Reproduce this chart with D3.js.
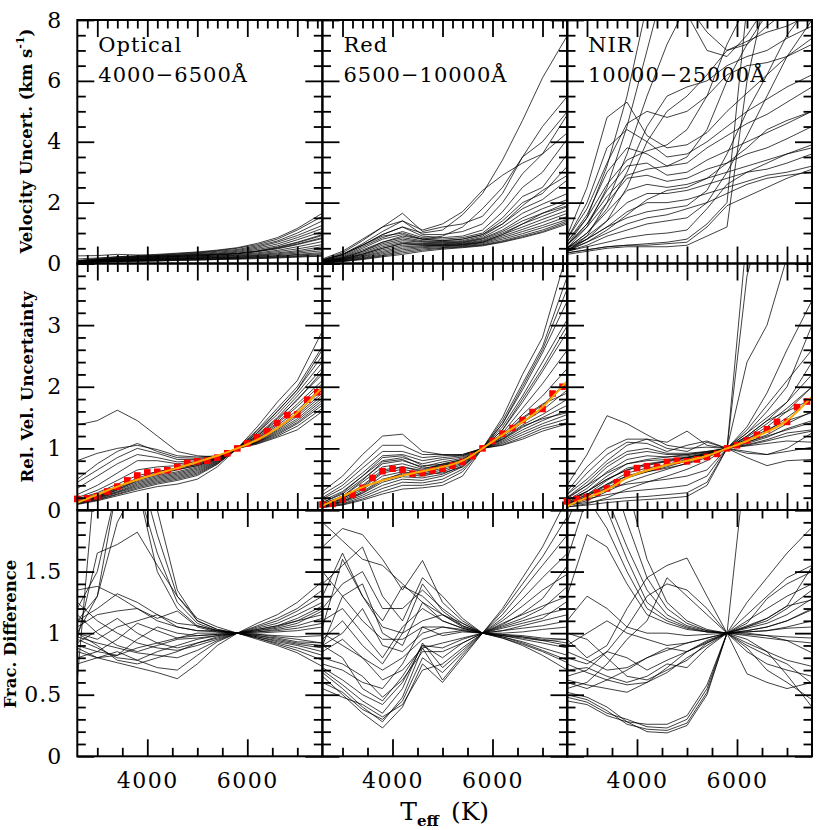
<!DOCTYPE html>
<html>
<head>
<meta charset="utf-8">
<script src="https://cdn.jsdelivr.net/npm/d3@7"></script>
<style>
  body { margin: 0; background: #fff; }
  svg text { font-family: "DejaVu Serif", serif; }
</style>
</head>
<body>
<div id="chart"></div>
<script>
(function() {
const width = 830,
      height = 830

// Teff grid of the individual curves and of the averaged (red) points
const teff = [2600, 3000, 3400, 3800, 4200, 4600, 5000, 5400, 5800, 6200, 6600, 7000, 7500]
const teffMean = [2600, 2800, 3000, 3200, 3400, 3600, 3800, 4000, 4200, 4400, 4600, 4800, 5000,
                  5200, 5400, 5600, 5800, 6000, 6200, 6400, 6600, 6800, 7000, 7200, 7400]

const bandNames = ['Optical', 'Red', 'NIR']
const bandRanges = ['4000\u22126500\u00c5', '6500\u221210000\u00c5', '10000\u221225000\u00c5']

// velocity uncertainty (km/s)
const optVel = [
  [0.10,0.16,0.22,0.26,0.30,0.34,0.38,0.44,0.52,0.66,0.85,1.15,1.65],
  [0.09,0.14,0.20,0.24,0.28,0.32,0.36,0.42,0.50,0.62,0.80,1.10,1.55],
  [0.08,0.13,0.18,0.22,0.26,0.30,0.34,0.40,0.46,0.58,0.74,1.00,1.40],
  [0.08,0.12,0.17,0.21,0.24,0.28,0.32,0.37,0.43,0.54,0.70,0.92,1.25],
  [0.07,0.12,0.16,0.20,0.23,0.26,0.30,0.34,0.40,0.50,0.64,0.85,1.15],
  [0.07,0.11,0.15,0.18,0.21,0.24,0.28,0.32,0.37,0.46,0.58,0.78,1.05],
  [0.06,0.10,0.14,0.17,0.20,0.23,0.26,0.30,0.34,0.42,0.54,0.70,0.95],
  [0.06,0.09,0.13,0.16,0.19,0.21,0.24,0.28,0.32,0.39,0.48,0.62,0.82],
  [0.06,0.09,0.12,0.15,0.17,0.20,0.22,0.25,0.29,0.35,0.43,0.55,0.72],
  [0.05,0.08,0.11,0.14,0.16,0.18,0.21,0.24,0.27,0.32,0.39,0.48,0.62],
  [0.05,0.08,0.10,0.13,0.15,0.17,0.19,0.22,0.25,0.29,0.35,0.42,0.55],
  [0.05,0.07,0.10,0.12,0.14,0.16,0.18,0.20,0.23,0.27,0.32,0.38,0.48],
  [0.04,0.07,0.09,0.11,0.13,0.15,0.17,0.19,0.21,0.25,0.29,0.34,0.42],
  [0.04,0.06,0.08,0.10,0.12,0.14,0.16,0.18,0.20,0.23,0.26,0.30,0.36],
  [0.04,0.06,0.08,0.10,0.11,0.13,0.15,0.16,0.18,0.21,0.24,0.28,0.32],
  [0.03,0.05,0.07,0.09,0.10,0.12,0.13,0.15,0.17,0.19,0.22,0.25,0.29],
  [0.03,0.05,0.07,0.08,0.09,0.11,0.12,0.14,0.16,0.18,0.20,0.23,0.26],
  [0.03,0.04,0.06,0.07,0.08,0.10,0.11,0.13,0.14,0.16,0.18,0.21,0.24],
  [0.25,0.26,0.30,0.28,0.27,0.27,0.28,0.30,0.33,0.40,0.50,0.64,0.85],
  [0.15,0.18,0.22,0.22,0.22,0.23,0.25,0.28,0.32,0.40,0.52,0.68,0.92]
]
const redVel = [
  [0.10,0.30,0.60,0.95,1.20,1.00,1.10,1.60,2.30,3.40,4.70,6.10,7.50],
  [0.12,0.35,0.75,1.20,1.65,1.05,1.20,1.30,1.55,2.30,3.50,4.50,5.50],
  [0.10,0.30,0.65,1.05,1.40,0.95,0.95,1.05,1.30,2.00,2.95,3.60,4.90],
  [0.10,0.28,0.60,0.95,1.20,0.90,0.85,0.90,1.10,1.70,2.50,3.00,4.10],
  [0.08,0.25,0.55,0.85,1.05,0.85,0.80,0.85,1.00,1.50,2.20,2.50,3.60],
  [0.08,0.22,0.50,0.80,0.95,0.80,0.75,0.80,0.95,1.40,2.00,2.30,3.20],
  [0.07,0.20,0.45,0.70,0.85,0.75,0.72,0.75,0.90,1.30,1.80,2.10,2.75],
  [0.07,0.18,0.40,0.65,0.80,0.72,0.70,0.72,0.85,1.20,1.65,1.95,2.30],
  [0.06,0.16,0.36,0.60,0.75,0.70,0.68,0.70,0.82,1.10,1.50,1.80,2.10],
  [0.06,0.15,0.32,0.55,0.70,0.66,0.65,0.68,0.80,1.05,1.40,1.65,1.90],
  [0.05,0.14,0.30,0.50,0.66,0.64,0.63,0.66,0.76,1.00,1.30,1.55,1.87],
  [0.05,0.12,0.27,0.45,0.60,0.62,0.62,0.64,0.73,0.95,1.20,1.45,1.75],
  [0.05,0.11,0.24,0.40,0.55,0.58,0.60,0.62,0.70,0.90,1.12,1.35,1.65],
  [0.04,0.10,0.22,0.36,0.50,0.55,0.58,0.60,0.68,0.85,1.05,1.25,1.55],
  [0.04,0.09,0.19,0.32,0.45,0.52,0.55,0.58,0.65,0.80,0.98,1.18,1.45],
  [0.04,0.08,0.17,0.28,0.40,0.48,0.52,0.56,0.62,0.75,0.92,1.10,1.40],
  [0.03,0.07,0.15,0.25,0.35,0.44,0.50,0.54,0.60,0.72,0.88,1.05,1.35],
  [0.03,0.06,0.13,0.22,0.30,0.40,0.47,0.52,0.58,0.70,0.85,1.02,1.30],
  [0.15,0.40,0.80,1.20,1.40,1.10,1.30,1.70,2.40,2.90,3.30,3.60,4.30],
  [0.12,0.30,0.60,0.90,1.00,0.80,0.90,1.20,1.80,2.50,3.50,4.00,5.00],
  [0.06,0.18,0.40,0.70,0.90,0.80,0.75,0.80,0.95,1.30,1.90,2.40,2.90],
  [0.05,0.14,0.30,0.50,0.65,0.60,0.58,0.62,0.70,0.95,1.30,1.65,2.00]
]
const nirVel = [
  [0.50,1.20,2.50,4.50,7.00,9.50,10.0,10.0,10.0,10.0,10.0,10.0,10.0],
  [0.60,1.50,3.20,5.50,8.50,9.00,8.20,7.00,6.80,7.50,8.50,9.50,10.0],
  [0.40,0.90,2.00,3.60,5.50,7.20,8.50,7.60,7.00,7.20,7.80,8.30,9.00],
  [0.90,2.50,4.80,5.30,4.20,3.80,3.90,4.30,5.00,5.60,6.20,6.80,7.40],
  [0.80,2.00,3.80,4.40,4.00,3.50,3.60,4.00,4.50,5.00,5.40,5.80,6.20],
  [0.70,1.60,3.00,3.80,3.60,3.20,3.30,3.80,4.20,4.60,4.90,5.30,5.80],
  [0.60,1.30,2.40,3.20,3.30,2.90,3.00,3.40,3.70,4.00,4.30,4.60,5.00],
  [0.60,1.20,2.00,2.80,2.90,2.70,2.80,3.10,3.30,3.60,3.80,4.10,4.50],
  [0.50,1.00,1.70,2.40,2.60,2.50,2.60,2.80,3.00,3.20,3.40,3.60,3.90],
  [0.50,0.90,1.40,2.00,2.30,2.30,2.40,2.60,2.80,3.00,3.10,3.30,3.60],
  [0.40,0.80,1.20,1.70,2.00,2.00,2.10,2.30,2.50,2.70,2.90,3.00,3.20],
  [0.40,0.70,1.00,1.30,1.50,1.60,1.80,2.00,2.30,2.60,2.80,2.90,3.00],
  [0.40,0.55,0.70,0.85,0.95,1.00,1.10,1.80,2.60,3.00,3.30,3.60,3.80],
  [0.35,0.45,0.55,0.60,0.60,0.65,0.70,1.20,1.90,2.20,2.50,2.80,3.10],
  [0.30,0.40,0.50,0.55,0.55,0.55,0.60,0.90,1.20,6.00,9.00,10.0,10.0],
  [0.35,0.45,0.55,0.60,0.65,0.70,0.80,1.30,2.00,8.50,10.0,10.0,10.0],
  [0.45,0.80,1.40,2.50,4.00,5.00,5.50,6.20,7.00,7.30,7.60,7.80,8.20],
  [0.50,1.00,1.80,3.00,4.50,5.50,5.80,6.00,6.50,6.80,7.00,7.40,7.80],
  [0.70,1.50,2.60,3.40,3.70,3.90,4.40,5.50,7.20,8.50,9.50,10.0,10.0],
  [0.60,1.30,2.20,2.90,3.10,3.20,3.50,4.40,6.00,7.20,8.20,9.00,10.0],
  [0.45,0.70,1.10,1.60,2.10,2.40,2.50,2.80,3.30,3.80,4.40,4.70,5.00],
  [0.80,1.80,3.30,4.60,5.00,4.80,5.00,5.50,6.20,6.50,6.60,6.80,7.20],
  [0.50,0.80,1.20,1.50,1.70,1.80,1.90,2.40,3.60,5.00,6.20,7.50,8.60],
  [0.40,0.60,0.90,1.10,1.30,1.40,1.50,2.00,3.00,4.20,5.50,6.80,8.00]
]

// velocity uncertainty relative to 5800 K
const optRel = [
  [1.38,1.45,1.62,1.45,1.20,0.95,0.88,0.86,1.0,1.35,1.75,2.10,2.90],
  [0.80,0.92,1.00,1.05,0.98,0.88,0.86,0.88,1.0,1.30,1.65,2.00,2.65],
  [0.50,0.75,0.95,1.08,0.95,0.85,0.84,0.87,1.0,1.28,1.60,1.95,2.50],
  [0.45,0.65,0.85,1.00,0.92,0.82,0.82,0.86,1.0,1.25,1.55,1.90,2.40],
  [0.35,0.55,0.75,0.90,0.85,0.78,0.80,0.85,1.0,1.22,1.50,1.85,2.30],
  [0.25,0.40,0.60,0.80,0.80,0.75,0.78,0.84,1.0,1.20,1.45,1.80,2.20],
  [0.20,0.32,0.48,0.65,0.70,0.72,0.76,0.84,1.0,1.18,1.42,1.72,2.10],
  [0.18,0.28,0.42,0.56,0.62,0.68,0.74,0.83,1.0,1.16,1.40,1.68,2.05],
  [0.16,0.26,0.38,0.50,0.58,0.65,0.72,0.82,1.0,1.15,1.37,1.62,2.00],
  [0.15,0.24,0.36,0.48,0.56,0.62,0.70,0.81,1.0,1.14,1.34,1.58,1.95],
  [0.14,0.22,0.34,0.46,0.54,0.60,0.68,0.80,1.0,1.13,1.32,1.55,1.90],
  [0.13,0.21,0.32,0.44,0.52,0.58,0.66,0.79,1.0,1.12,1.30,1.52,1.86],
  [0.12,0.20,0.30,0.42,0.50,0.56,0.64,0.78,1.0,1.11,1.28,1.48,1.82],
  [0.12,0.19,0.29,0.40,0.48,0.54,0.62,0.77,1.0,1.10,1.26,1.45,1.78],
  [0.11,0.18,0.28,0.38,0.46,0.52,0.60,0.76,1.0,1.10,1.24,1.42,1.74],
  [0.10,0.17,0.26,0.36,0.44,0.50,0.58,0.75,1.0,1.09,1.22,1.40,1.70],
  [0.10,0.16,0.25,0.34,0.42,0.48,0.56,0.74,1.0,1.08,1.20,1.36,1.65],
  [0.09,0.15,0.23,0.31,0.38,0.42,0.50,0.70,1.0,1.07,1.18,1.30,1.60],
  [0.13,0.22,0.36,0.52,0.62,0.68,0.74,0.84,1.0,1.25,1.60,1.95,2.60],
  [0.12,0.20,0.33,0.48,0.60,0.66,0.72,0.83,1.0,1.20,1.48,1.78,2.25]
]
const redRel = [
  [0.30,0.55,0.90,1.20,1.23,0.95,0.90,0.88,1.0,1.50,2.20,2.80,4.20],
  [0.25,0.45,0.75,1.05,1.05,0.90,0.90,0.90,1.0,1.45,2.05,2.65,3.80],
  [0.20,0.40,0.68,0.95,0.95,0.85,0.88,0.90,1.0,1.40,1.95,2.55,3.40],
  [0.18,0.35,0.60,0.88,0.90,0.80,0.85,0.88,1.0,1.35,1.85,2.40,3.10],
  [0.15,0.30,0.55,0.80,0.85,0.75,0.82,0.86,1.0,1.30,1.75,2.25,2.90],
  [0.12,0.26,0.50,0.75,0.80,0.70,0.78,0.84,1.0,1.25,1.65,2.05,2.60],
  [0.10,0.22,0.45,0.70,0.75,0.66,0.75,0.82,1.0,1.22,1.55,1.85,2.30],
  [0.09,0.20,0.40,0.65,0.70,0.62,0.72,0.80,1.0,1.20,1.48,1.70,2.10],
  [0.08,0.18,0.36,0.60,0.66,0.60,0.68,0.78,1.0,1.18,1.42,1.62,1.95],
  [0.07,0.16,0.33,0.55,0.62,0.58,0.65,0.76,1.0,1.16,1.38,1.55,1.80],
  [0.06,0.14,0.30,0.50,0.58,0.55,0.62,0.74,1.0,1.14,1.34,1.50,1.70],
  [0.06,0.13,0.27,0.45,0.54,0.52,0.58,0.72,1.0,1.12,1.30,1.45,1.62],
  [0.05,0.12,0.24,0.40,0.50,0.48,0.55,0.70,1.0,1.10,1.26,1.40,1.55],
  [0.05,0.10,0.21,0.35,0.45,0.44,0.50,0.66,1.0,1.08,1.22,1.36,1.48],
  [0.04,0.09,0.18,0.30,0.40,0.40,0.45,0.62,1.0,1.06,1.18,1.32,1.42],
  [0.04,0.08,0.16,0.26,0.34,0.36,0.40,0.55,1.0,1.05,1.15,1.28,1.40],
  [0.08,0.18,0.38,0.62,0.70,0.64,0.74,0.82,1.0,1.30,1.80,2.30,3.00],
  [0.10,0.22,0.48,0.78,0.82,0.68,0.72,0.80,1.0,1.40,2.00,2.60,3.60],
  [0.12,0.28,0.55,0.85,0.88,0.72,0.74,0.78,1.0,1.20,1.50,1.72,1.90],
  [0.06,0.14,0.28,0.48,0.60,0.58,0.60,0.70,1.0,1.15,1.36,1.48,1.58]
]
const nirRel = [
  [0.40,0.90,1.53,1.40,1.22,1.05,1.00,1.02,1.0,1.20,1.45,1.60,1.80],
  [0.30,0.70,1.00,1.15,1.15,1.10,1.28,1.05,1.0,1.30,1.70,2.10,2.60],
  [0.25,0.60,0.90,1.10,1.08,0.95,1.05,1.12,1.0,1.35,1.90,2.60,3.40],
  [0.15,0.30,0.50,0.65,0.75,0.80,0.85,0.90,1.0,4.50,5.00,5.00,5.00],
  [0.12,0.25,0.42,0.55,0.62,0.68,0.75,0.85,1.0,3.80,5.00,5.00,5.00],
  [0.20,0.40,0.60,0.75,0.82,0.86,0.90,0.95,1.0,2.40,3.00,4.10,5.00],
  [0.20,0.45,0.75,0.95,1.00,0.92,0.92,0.95,1.0,1.25,1.60,2.00,3.00],
  [0.18,0.40,0.70,0.90,0.95,0.90,0.90,0.94,1.0,1.20,1.45,1.75,2.40],
  [0.15,0.35,0.62,0.82,0.88,0.86,0.88,0.93,1.0,1.15,1.35,1.60,2.00],
  [0.12,0.30,0.55,0.75,0.80,0.82,0.86,0.92,1.0,1.12,1.28,1.50,1.80],
  [0.10,0.25,0.48,0.68,0.74,0.78,0.84,0.91,1.0,1.10,1.22,1.40,1.60],
  [0.09,0.22,0.42,0.60,0.68,0.74,0.82,0.90,1.0,1.08,1.18,1.32,1.45],
  [0.08,0.18,0.36,0.52,0.62,0.70,0.80,0.89,1.0,1.06,1.14,1.25,1.30],
  [0.07,0.15,0.30,0.45,0.56,0.66,0.76,0.88,1.0,1.04,1.08,1.12,1.10],
  [0.10,0.22,0.40,0.55,0.65,0.72,0.80,0.90,1.0,0.85,0.72,0.80,0.82],
  [0.15,0.30,0.50,0.65,0.72,0.80,0.85,0.92,1.0,0.95,0.90,0.95,1.02],
  [0.05,0.08,0.12,0.15,0.17,0.19,0.22,0.40,1.0,1.15,1.30,1.45,1.58],
  [0.08,0.12,0.17,0.20,0.22,0.25,0.28,0.45,1.0,1.18,1.40,1.65,2.00],
  [0.12,0.18,0.25,0.30,0.33,0.36,0.40,0.55,1.0,1.25,1.50,1.75,2.20],
  [0.18,0.26,0.35,0.42,0.46,0.50,0.55,0.65,1.0,1.10,1.20,1.30,1.42],
  [0.25,0.50,0.80,1.05,1.15,1.00,0.95,1.10,1.0,0.92,0.90,1.00,1.25],
  [0.05,0.10,0.20,0.34,0.45,0.55,0.66,0.80,1.0,1.05,1.12,1.20,1.28]
]

// averaged relative uncertainty (red squares) on teffMean
const optMean = [0.18,0.19,0.22,0.30,0.38,0.48,0.56,0.61,0.62,0.645,0.70,0.765,0.79,
                 0.80,0.85,0.92,1.0,1.08,1.18,1.28,1.41,1.54,1.55,1.79,1.91]
const redMean = [0.09,0.10,0.17,0.25,0.36,0.52,0.63,0.67,0.65,0.59,0.60,0.64,0.67,
                 0.72,0.78,0.875,1.0,1.12,1.24,1.33,1.46,1.59,1.64,1.89,2.0]
const nirMean = [0.14,0.18,0.21,0.28,0.35,0.45,0.59,0.68,0.71,0.70,0.78,0.80,0.79,
                 0.82,0.86,0.91,1.0,1.05,1.13,1.22,1.31,1.43,1.43,1.67,1.76]

// smooth fit (orange) on teff
const optFit = [0.12,0.25,0.38,0.49,0.59,0.68,0.78,0.88,1.0,1.14,1.33,1.58,1.99]
const redFit = [0.07,0.22,0.37,0.48,0.56,0.63,0.70,0.80,1.0,1.22,1.43,1.67,2.10]
const nirFit = [0.06,0.20,0.33,0.52,0.64,0.73,0.80,0.88,1.0,1.12,1.27,1.45,1.84]

// fractional difference
const optFrac = [
  [0.95,1.65,1.72,1.82,1.55,1.30,1.12,1.05,1.0,1.08,1.15,1.25,1.42],
  [0.62,2.50,2.50,2.50,2.00,1.35,1.10,1.03,1.0,1.06,1.12,1.20,1.35],
  [1.00,1.30,2.20,2.40,1.80,1.30,1.10,1.03,1.0,1.05,1.10,1.18,1.30],
  [1.20,1.50,2.20,2.20,1.65,1.25,1.08,1.02,1.0,1.04,1.08,1.15,1.25],
  [1.10,1.30,1.90,2.20,1.50,1.20,1.06,1.02,1.0,1.03,1.06,1.12,1.22],
  [1.35,1.38,1.30,1.20,1.10,1.05,1.02,1.02,1.0,1.02,1.04,1.08,1.18],
  [1.10,1.20,1.32,1.25,1.15,1.08,1.06,1.02,1.0,1.01,1.03,1.06,1.12],
  [1.05,1.15,1.18,1.20,1.12,1.18,1.05,1.01,1.0,1.00,1.01,1.02,1.05],
  [1.00,0.95,1.05,1.10,1.15,1.05,1.02,1.01,1.0,0.99,0.98,0.97,0.98],
  [0.90,0.85,0.95,1.08,1.02,0.96,1.00,1.00,1.0,0.98,0.96,0.93,0.92],
  [0.85,0.80,0.82,0.95,1.05,1.00,0.98,0.99,1.0,0.98,0.95,0.92,0.90],
  [0.80,0.85,0.82,0.88,0.92,0.96,0.98,0.99,1.0,0.97,0.94,0.91,0.88],
  [0.95,0.88,0.80,0.78,0.85,0.90,0.95,0.98,1.0,0.97,0.93,0.90,0.85],
  [1.00,0.90,0.78,0.75,0.80,0.85,0.92,0.97,1.0,0.96,0.92,0.88,0.82],
  [0.75,0.80,0.85,0.78,0.72,0.70,0.82,0.93,1.0,0.96,0.91,0.86,0.78],
  [0.88,0.80,0.76,0.72,0.68,0.63,0.75,0.90,1.0,0.95,0.90,0.84,0.73],
  [1.15,1.00,0.90,0.85,0.90,0.95,0.96,0.98,1.0,1.02,1.05,1.10,1.20],
  [0.92,1.02,1.12,1.00,0.92,0.88,0.92,0.96,1.0,1.01,1.02,1.04,1.08],
  [1.25,1.10,1.00,0.92,0.88,0.86,0.90,0.95,1.0,1.03,1.06,1.10,1.15],
  [0.97,0.92,0.88,0.84,0.82,0.80,0.86,0.94,1.0,0.99,0.97,0.95,0.92]
]
const redFrac = [
  [1.90,1.75,1.60,1.55,1.40,1.25,1.15,1.08,1.0,1.20,1.45,1.70,2.10],
  [1.70,1.85,1.80,1.60,1.35,1.59,1.25,1.10,1.0,1.18,1.40,1.62,1.95],
  [1.40,1.55,1.70,1.30,1.10,1.45,1.30,1.12,1.0,1.15,1.35,1.55,1.80],
  [1.20,1.40,1.50,1.20,1.20,1.35,1.20,1.08,1.0,1.12,1.28,1.45,1.65],
  [1.05,1.60,1.30,1.05,1.00,1.10,1.15,1.05,1.0,1.10,1.22,1.35,1.48],
  [0.90,1.30,1.40,1.00,0.90,1.25,1.10,1.04,1.0,1.08,1.15,1.22,1.30],
  [0.90,1.00,1.20,0.90,0.85,1.00,1.05,1.03,1.0,1.05,1.10,1.15,1.20],
  [0.85,0.95,0.80,0.70,0.80,0.95,1.00,1.02,1.0,1.02,1.04,1.06,1.10],
  [0.75,0.70,0.60,0.55,0.75,1.05,0.98,1.01,1.0,0.99,0.98,0.96,0.95],
  [0.72,0.62,0.50,0.42,0.60,0.90,0.80,0.92,1.0,0.98,0.95,0.92,0.88],
  [0.70,0.58,0.45,0.35,0.55,0.92,0.72,0.86,1.0,0.97,0.93,0.88,0.82],
  [0.68,0.55,0.40,0.28,0.48,0.88,0.62,0.82,1.0,0.96,0.91,0.85,0.76],
  [0.65,0.50,0.35,0.23,0.40,0.75,0.60,0.80,1.0,0.96,0.90,0.82,0.70],
  [0.60,0.52,0.38,0.30,0.45,0.80,0.68,0.84,1.0,0.97,0.92,0.86,0.78],
  [0.55,0.48,0.42,0.32,0.42,0.70,0.75,0.88,1.0,0.99,0.97,0.95,0.92],
  [0.80,0.75,0.65,0.48,0.62,0.85,0.85,0.92,1.0,0.98,0.96,0.94,0.90],
  [1.00,0.90,0.80,0.62,0.70,0.88,0.92,0.96,1.0,1.02,1.06,1.10,1.15],
  [1.10,1.20,1.00,0.80,1.05,1.20,1.10,1.04,1.0,1.04,1.08,1.12,1.26],
  [1.30,1.65,1.30,1.10,1.38,1.30,1.15,1.06,1.0,0.98,0.97,0.94,0.95],
  [0.95,1.10,0.90,0.75,1.00,1.40,1.18,1.06,1.0,1.06,1.12,1.20,1.38],
  [0.90,0.80,0.55,0.45,0.65,0.90,0.88,0.95,1.0,1.00,1.01,1.03,1.05],
  [1.50,1.30,1.10,0.95,0.95,1.05,1.05,1.02,1.0,1.07,1.16,1.28,1.55]
]
const nirFrac = [
  [2.50,2.50,2.50,2.20,1.60,1.25,1.10,1.03,1.0,1.05,1.10,1.20,1.35],
  [2.50,2.50,2.40,1.90,1.45,1.20,1.08,1.02,1.0,1.04,1.08,1.15,1.28],
  [2.20,2.50,2.10,1.70,1.35,1.15,1.06,1.02,1.0,1.02,1.05,1.10,1.20],
  [1.90,2.30,2.00,1.60,1.25,1.12,1.05,1.01,1.0,1.01,1.02,1.05,1.10],
  [1.60,2.10,1.85,1.50,1.20,1.10,1.04,1.01,1.0,0.99,0.98,0.97,0.96],
  [1.30,1.80,1.70,1.40,1.15,1.08,1.03,1.01,1.0,0.98,0.96,0.94,0.92],
  [0.52,0.48,0.40,0.28,0.20,0.19,0.25,0.50,1.0,1.25,1.45,1.65,1.86],
  [0.50,0.46,0.37,0.26,0.22,0.21,0.27,0.52,1.0,1.15,1.30,1.45,1.55],
  [0.48,0.44,0.35,0.30,0.24,0.23,0.30,0.55,1.0,1.10,1.20,1.30,1.40],
  [0.45,0.42,0.33,0.28,0.26,0.26,0.33,0.58,1.0,1.06,1.12,1.22,1.27],
  [0.95,0.80,0.90,1.20,1.45,1.55,1.61,1.30,1.0,0.85,0.75,0.70,0.65],
  [0.65,0.70,0.85,1.05,1.30,1.40,1.35,1.20,1.0,0.90,0.82,0.75,0.59],
  [0.55,0.60,0.75,0.95,1.10,1.45,1.30,1.15,1.0,0.88,0.70,0.60,0.46],
  [0.60,0.55,0.62,0.70,0.80,0.88,0.85,0.92,1.0,0.92,0.85,0.66,0.40],
  [0.70,0.72,0.65,0.60,0.65,0.75,0.72,0.88,1.0,0.67,0.60,0.55,0.60],
  [0.80,0.75,0.85,0.80,0.70,0.78,0.85,0.93,1.0,0.95,0.85,0.78,0.73],
  [0.90,1.00,1.10,1.00,0.95,0.90,0.92,0.96,1.0,1.02,1.05,1.10,1.19],
  [1.10,1.30,1.20,1.05,1.00,1.00,0.98,0.99,1.0,1.05,1.12,1.22,1.54],
  [0.85,0.78,0.70,0.72,0.80,0.86,0.92,0.96,1.0,2.50,2.50,2.50,2.50],
  [0.75,0.68,0.62,0.58,0.60,0.68,0.80,0.90,1.0,1.08,1.28,1.40,1.50],
  [1.00,0.95,0.80,0.65,0.62,0.70,0.78,0.92,1.0,1.00,0.98,0.94,0.84],
  [0.62,0.58,0.55,0.52,0.60,0.72,0.85,0.94,1.0,1.01,1.02,1.04,1.05]
]

// layout
const colLeft = [77.3, 322.5, 567]
const colWidth = 245
const rowTop = [20, 263.5, 510]
const rowBottom = [263.5, 510, 756.3]
const majorLen = 17,
      minorLen = 8.5

const rows = [
  { data: [optVel, redVel, nirVel], domain: [0, 8],
    yMajor: [0, 2, 4, 6, 8], yMinor: d3.range(0, 8.01, 0.5), yLabels: [0, 2, 4, 6, 8],
    xMajor: [3000, 4000, 5000, 6000, 7000], xMinor: d3.range(2800, 7500, 200) },
  { data: [optRel, redRel, nirRel], domain: [0, 4],
    means: [optMean, redMean, nirMean], fits: [optFit, redFit, nirFit],
    yMajor: [0, 1, 2, 3, 4], yMinor: d3.range(0, 4.01, 0.2), yLabels: [0, 1, 2, 3],
    xMajor: [3000, 4000, 5000, 6000, 7000], xMinor: d3.range(2800, 7500, 200) },
  { data: [optFrac, redFrac, nirFrac], domain: [0, 2],
    yMajor: [0, 0.5, 1, 1.5, 2], yMinor: d3.range(0, 2.001, 0.1), yLabels: [0, 0.5, 1, 1.5],
    xMajor: [4000, 6000], xMinor: [3000, 3500, 4500, 5000, 5500, 6500, 7000] }
]

const svg = d3.select('#chart')
  .append('svg')
  .attr('width', width)
  .attr('height', height)

function addAxis(g, axis, tx, ty) {
  return g.append('g')
    .attr('transform', 'translate(' + tx + ',' + ty + ')')
    .call(axis)
    .call(s => s.select('.domain').remove())
    .call(s => s.selectAll('line').attr('stroke', '#000').attr('stroke-width', 1.8))
}

rows.forEach(function(row, r) {
  const y = d3.scaleLinear().domain(row.domain).range([rowBottom[r], rowTop[r]])

  row.data.forEach(function(lines, c) {
    const x = d3.scaleLinear().domain([2600, 7500]).range([colLeft[c], colLeft[c] + colWidth])
    const g = svg.append('g')
    const clipId = 'clip-' + r + '-' + c

    g.append('clipPath').attr('id', clipId)
      .append('rect')
      .attr('x', colLeft[c]).attr('y', rowTop[r])
      .attr('width', colWidth).attr('height', rowBottom[r] - rowTop[r])

    if (r === 0) {
      g.append('text')
        .attr('x', colLeft[c] + 21).attr('y', 52)
        .attr('font-size', 21).style('letter-spacing', '1px')
        .text(bandNames[c])
      g.append('text')
        .attr('x', colLeft[c] + 21).attr('y', 82)
        .attr('font-size', 21).style('letter-spacing', '1px')
        .text(bandRanges[c])
    }

    const line = d3.line()
      .x((d, i) => x(teff[i]))
      .y(d => y(d))

    g.append('g')
      .attr('clip-path', 'url(#' + clipId + ')')
      .selectAll('path')
      .data(lines)
      .enter().append('path')
      .attr('d', line)
      .attr('fill', 'none')
      .attr('stroke', '#000')
      .attr('stroke-width', 0.75)

    if (row.means) {
      g.selectAll('.mean')
        .data(row.means[c])
        .enter().append('rect')
        .attr('class', 'mean')
        .attr('x', (d, i) => x(teffMean[i]) - 3.3)
        .attr('y', d => y(d) - 3.3)
        .attr('width', 6.6).attr('height', 6.6)
        .attr('fill', '#ff0000')

      const fitLine = d3.line()
        .x((d, i) => x(teff[i]))
        .y(d => y(d))
        .curve(d3.curveNatural)
      g.append('path')
        .attr('clip-path', 'url(#' + clipId + ')')
        .attr('d', fitLine(row.fits[c]))
        .attr('fill', 'none')
        .attr('stroke', '#ffa500')
        .attr('stroke-width', 2)
    }

    // ticks on all four sides, pointing in
    const xMinorOnly = row.xMinor.filter(v => row.xMajor.indexOf(v) < 0)
    const yMinorOnly = row.yMinor.filter(v => !row.yMajor.some(m => Math.abs(m - v) < 1e-6))
    addAxis(g, d3.axisBottom(x).tickValues(xMinorOnly).tickSize(-minorLen).tickFormat(''), 0, rowBottom[r])
    addAxis(g, d3.axisTop(x).tickValues(xMinorOnly).tickSize(-minorLen).tickFormat(''), 0, rowTop[r])
    addAxis(g, d3.axisTop(x).tickValues(row.xMajor).tickSize(-majorLen).tickFormat(''), 0, rowTop[r])
    addAxis(g, d3.axisLeft(y).tickValues(yMinorOnly).tickSize(-minorLen).tickFormat(''), colLeft[c], 0)
    addAxis(g, d3.axisRight(y).tickValues(yMinorOnly).tickSize(-minorLen).tickFormat(''), colLeft[c] + colWidth, 0)
    addAxis(g, d3.axisRight(y).tickValues(row.yMajor).tickSize(-majorLen).tickFormat(''), colLeft[c] + colWidth, 0)

    const bottomMajor = d3.axisBottom(x).tickValues(row.xMajor).tickSize(-majorLen)
    if (r === 2) {
      bottomMajor.tickPadding(16).tickFormat(d3.format('d'))
    } else {
      bottomMajor.tickFormat('')
    }
    addAxis(g, bottomMajor, 0, rowBottom[r])
      .attr('font-family', '"DejaVu Serif", serif')
      .attr('font-size', 22)
      .selectAll('text').attr('fill', '#000').style('letter-spacing', '1.5px')

    const leftMajor = d3.axisLeft(y).tickValues(row.yMajor).tickSize(-majorLen)
    if (c === 0) {
      leftMajor.tickPadding(15).tickFormat(d => row.yLabels.indexOf(d) >= 0 ? String(d) : '')
    } else {
      leftMajor.tickFormat('')
    }
    addAxis(g, leftMajor, colLeft[c], 0)
      .attr('font-family', '"DejaVu Serif", serif')
      .attr('font-size', 22)
      .selectAll('text').attr('fill', '#000').style('letter-spacing', '1px')

    g.append('rect')
      .attr('x', colLeft[c]).attr('y', rowTop[r])
      .attr('width', colWidth).attr('height', rowBottom[r] - rowTop[r])
      .attr('fill', 'none')
      .attr('stroke', '#000')
      .attr('stroke-width', 2)
  })
})

// axis titles
const vt = svg.append('text')
  .attr('transform', 'translate(26,141) rotate(-90)')
  .attr('text-anchor', 'middle')
  .attr('dominant-baseline', 'central')
  .attr('font-size', 16.5)
  .attr('font-weight', 'bold')
vt.append('tspan').text('Velocity Uncert. (km s')
vt.append('tspan').attr('font-size', 11).attr('dy', -6).text('-1')
vt.append('tspan').attr('dy', 6).text(')')

svg.append('text')
  .attr('transform', 'translate(27,387) rotate(-90)')
  .attr('text-anchor', 'middle')
  .attr('dominant-baseline', 'central')
  .attr('font-size', 16.5)
  .attr('font-weight', 'bold')
  .text('Rel. Vel. Uncertainty')

svg.append('text')
  .attr('transform', 'translate(10,634) rotate(-90)')
  .attr('text-anchor', 'middle')
  .attr('dominant-baseline', 'central')
  .attr('font-size', 16.5)
  .attr('font-weight', 'bold')
  .text('Frac. Difference')

const xt = svg.append('text')
  .attr('x', 444.7).attr('y', 820)
  .attr('text-anchor', 'middle')
  .attr('font-size', 25)
xt.append('tspan').text('T')
xt.append('tspan').attr('font-size', 15).attr('font-weight', 'bold').attr('dy', 6).text('eff')
xt.append('tspan').attr('dy', -6).attr('dx', 12).text('(K)')

})()
</script>
</body>
</html>
